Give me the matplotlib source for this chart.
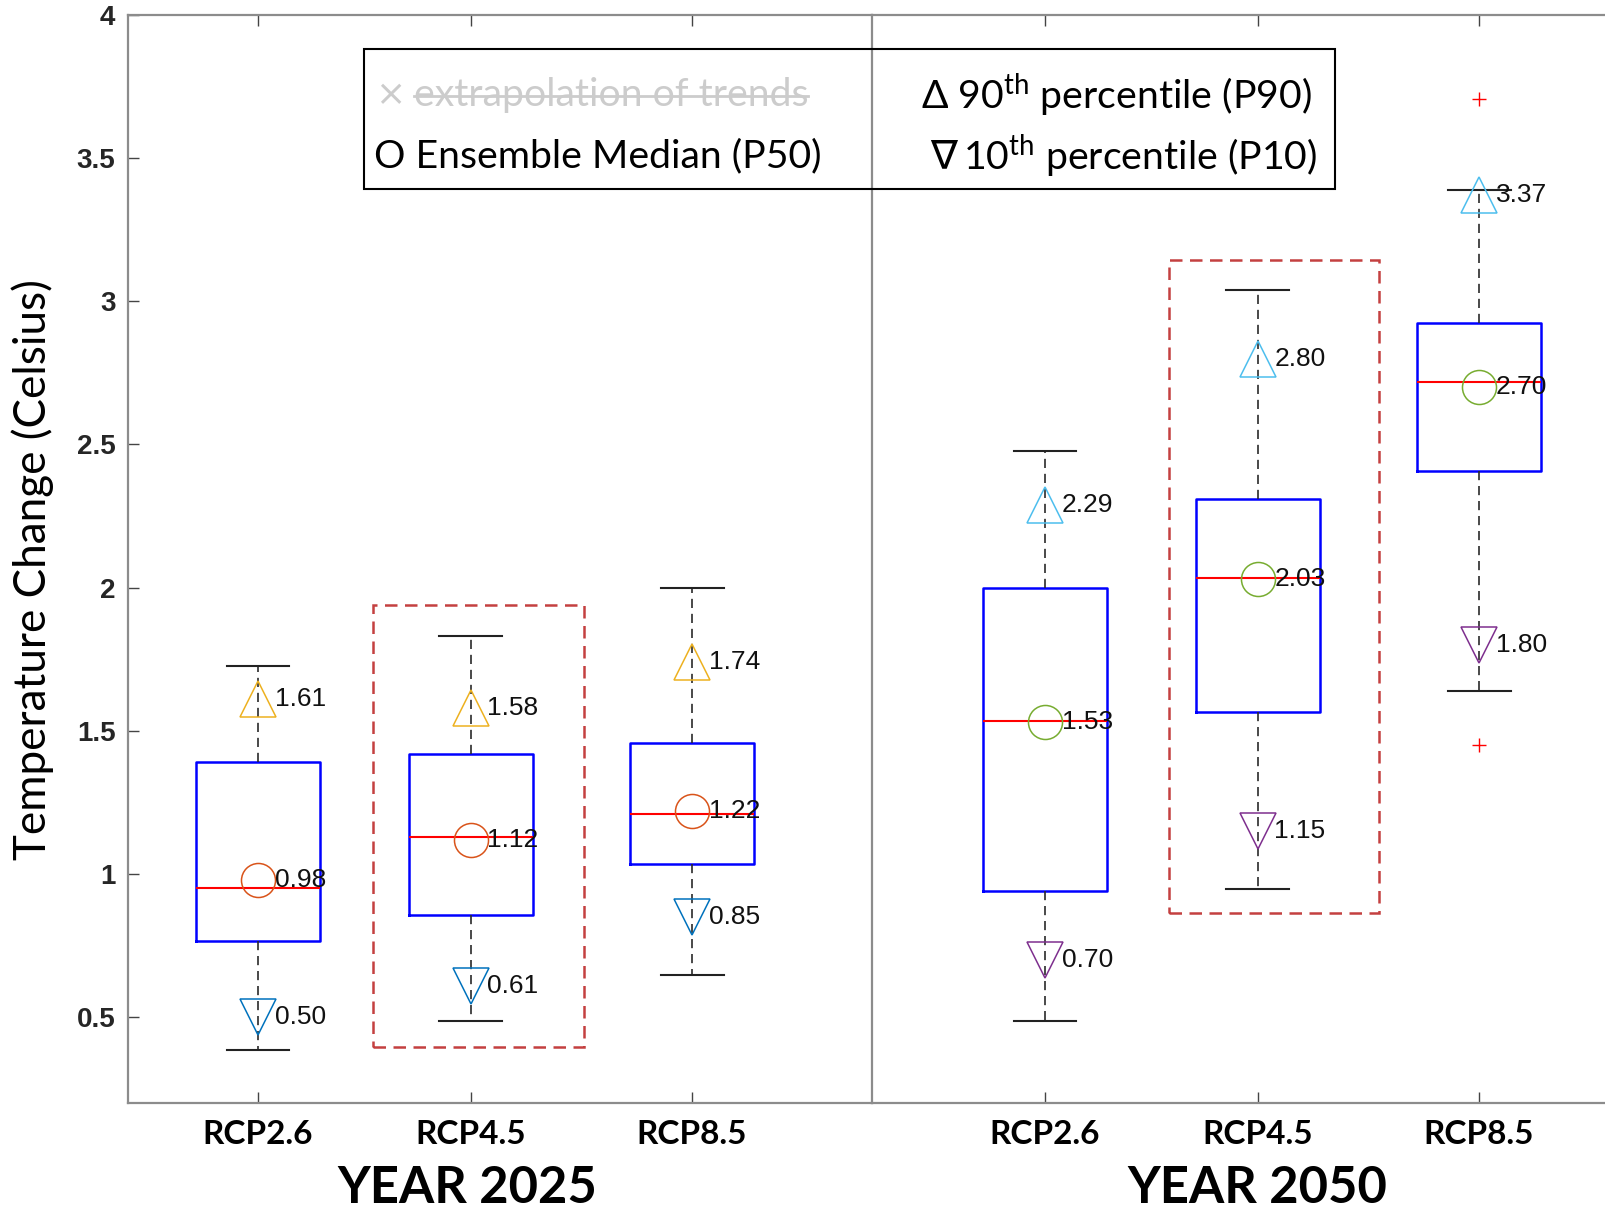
import numpy as np
import matplotlib.pyplot as plt
from matplotlib.patches import Rectangle
from matplotlib.lines import Line2D

plt.rcParams['mathtext.fontset'] = 'custom'
plt.rcParams['mathtext.rm'] = 'Lato'

scenarios = ['RCP2.6', 'RCP4.5', 'RCP8.5']
years = ['YEAR 2025', 'YEAR 2050']
positions = [1, 1.98, 3]

# box statistics
whislo_2025 = [0.385, 0.486, 0.647]
q1_2025 = [0.765, 0.855, 1.034]
med_2025 = [0.951, 1.130, 1.209]
q3_2025 = [1.392, 1.420, 1.456]
whishi_2025 = [1.725, 1.832, 1.997]
fliers_2025 = [[], [], []]

whislo_2050 = [0.486, 0.948, 1.639]
q1_2050 = [0.941, 1.567, 2.409]
med_2050 = [1.535, 2.033, 2.717]
q3_2050 = [2.000, 2.308, 2.924]
whishi_2050 = [2.477, 3.039, 3.390]
fliers_2050 = [[], [], [3.705, 1.449]]

# ensemble percentiles
p10_2025 = [0.50, 0.61, 0.85]
p50_2025 = [0.98, 1.12, 1.22]
p90_2025 = [1.61, 1.58, 1.74]
p10_2050 = [0.70, 1.15, 1.80]
p50_2050 = [1.53, 2.03, 2.70]
p90_2050 = [2.29, 2.80, 3.37]

# red dashed highlight boxes (x0, y0, x1, y1)
highlight_2025 = [1.53, 0.396, 2.50, 1.94]
highlight_2050 = [1.57, 0.865, 2.54, 3.143]

yticks = [0.5, 1, 1.5, 2, 2.5, 3, 3.5, 4]
ytick_labels = ['0.5', '1', '1.5', '2', '2.5', '3', '3.5', '4']

W, H = 1606, 1211
fig = plt.figure(figsize=(W / 100, H / 100), dpi=100)


def px_rect(x0, x1, y0, y1):
    return [x0 / W, 1 - y1 / H, (x1 - x0) / W, (y1 - y0) / H]


ax1 = fig.add_axes(px_rect(128, 872, 15, 1103))
ax2 = fig.add_axes(px_rect(872, 1616, 15, 1103))

panels = [
    (ax1, (0.401, 3.829), whislo_2025, q1_2025, med_2025, q3_2025, whishi_2025, fliers_2025,
     p10_2025, p50_2025, p90_2025, ['#0072BD', '#D95319', '#EDB120'], highlight_2025),
    (ax2, (0.203, 3.631), whislo_2050, q1_2050, med_2050, q3_2050, whishi_2050, fliers_2050,
     p10_2050, p50_2050, p90_2050, ['#7E2F8E', '#77AC30', '#4DBEEE'], highlight_2050),
]

spine_col = '#8c8c8c'
for ax, xl, lo, q1, med, q3, hi, fl, p10, p50, p90, cols, hl in panels:
    stats = [dict(whislo=a, q1=b, med=c, q3=d, whishi=e, fliers=f)
             for a, b, c, d, e, f in zip(lo, q1, med, q3, hi, fl)]
    ax.bxp(stats, positions=positions, widths=0.57, capwidths=0.29, manage_ticks=False,
           boxprops=dict(color='#0000ff', lw=1.8),
           medianprops=dict(color='#ff0000', lw=1.5),
           whiskerprops=dict(color='#2a2a2a', lw=1.2, linestyle=(0, (5.5, 3.5))),
           capprops=dict(color='#222222', lw=1.5),
           flierprops=dict(marker='+', markeredgecolor='#ff0000', markersize=10,
                           markeredgewidth=1.0, linestyle='none'))

    for vals, mk, c in [(p90, '^', cols[2]), (p50, 'o', cols[1]), (p10, 'v', cols[0])]:
        ax.plot(positions, vals, linestyle='none', marker=mk, ms=26 if mk != 'o' else 24.5,
                mfc='none', mec=c, mew=1.1, zorder=4)
        for x, v in zip(positions, vals):
            ax.annotate(f'{v:.2f}', (x, v), xytext=(12, 0), textcoords='offset points',
                        ha='left', va='center', fontsize=19, family='Liberation Sans',
                        color='#111111', zorder=5)

    ax.add_patch(Rectangle((hl[0], hl[1]), hl[2] - hl[0], hl[3] - hl[1], fill=False,
                           edgecolor='#c44040', lw=1.8, linestyle=(0, (5, 3)), zorder=3))

    ax.set_xlim(*xl)
    ax.set_ylim(0.2, 4)
    ax.set_xticks(positions)
    ax.set_xticklabels(scenarios, fontfamily='Lato', fontweight='bold', fontsize=24)
    ax.tick_params(axis='x', direction='in', length=8, width=1.0, color='#444444',
                   top=True, labeltop=False, pad=12)
    for s in ax.spines.values():
        s.set_color(spine_col)
        s.set_linewidth(1.6)

ax1.spines['right'].set_visible(False)
ax1.set_yticks(yticks)
ax1.set_yticklabels(ytick_labels, fontfamily='Liberation Sans', fontweight='bold',
                    fontsize=20, color='#262626')
ax1.tick_params(axis='y', direction='in', length=8, width=1.0, color='#444444',
                left=True, right=False, pad=9)

ax2.set_yticks(np.linspace(0.2, 4, 8)[1:-1])
ax2.tick_params(axis='y', direction='in', length=8, width=1.0, color='#444444',
                left=False, labelleft=False, right=True, labelright=False)

# year labels and y label
fig.text(467 / W, 1 - 1203 / H, years[0], ha='center', va='baseline',
         fontfamily='Lato', fontweight='bold', fontsize=36.5)
fig.text(1257 / W, 1 - 1203 / H, years[1], ha='center', va='baseline',
         fontfamily='Lato', fontweight='bold', fontsize=36.5)
fig.text(33 / W, 1 - 570 / H, 'Temperature Change (Celsius)', rotation=90,
         ha='center', va='center', fontfamily='Lato', fontsize=31.7)

# legend box
fig.add_artist(Rectangle((363.6 / W, 1 - 188.5 / H), 971 / W, 139.5 / H, fill=False,
                         edgecolor='black', lw=1.5, transform=fig.transFigure, zorder=6))
fam = ['Lato', 'DejaVu Sans']
lsize = 28.3
fig.text(375 / W, 1 - 95 / H, '×', ha='left', va='center', family='DejaVu Sans',
         fontsize=26, color='#cccccc')
strike = fig.text(414 / W, 1 - 95 / H, 'extrapolation of trends', ha='left', va='center',
                  family=fam, fontsize=lsize, color='#cccccc')
fig.text(374 / W, 1 - 156 / H, 'O Ensemble Median (P50)', ha='left', va='center',
         family=fam, fontsize=lsize)
fig.text(1312 / W, 1 - 95 / H, 'Δ 90$^{\\mathrm{th}}$ percentile (P90)', ha='right',
         va='center', family=fam, fontsize=lsize)
fig.text(1317 / W, 1 - 156 / H, '10$^{\\mathrm{th}}$ percentile (P10)', ha='right',
         va='center', family=fam, fontsize=lsize)
fig.text(930 / W, 1 - 157 / H, '∇', ha='left', va='center', family='DejaVu Sans',
         style='italic', fontsize=29)

fig.canvas.draw()
bb = strike.get_window_extent()
inv = fig.transFigure.inverted()
(sx0, sy), (sx1, _) = inv.transform([(bb.x0, H - 96), (bb.x1, H - 96)])
fig.add_artist(Line2D([sx0, sx1], [sy, sy], color='#cccccc', lw=2.0,
                      transform=fig.transFigure, zorder=7))

fig.savefig('out.png', dpi=100)
